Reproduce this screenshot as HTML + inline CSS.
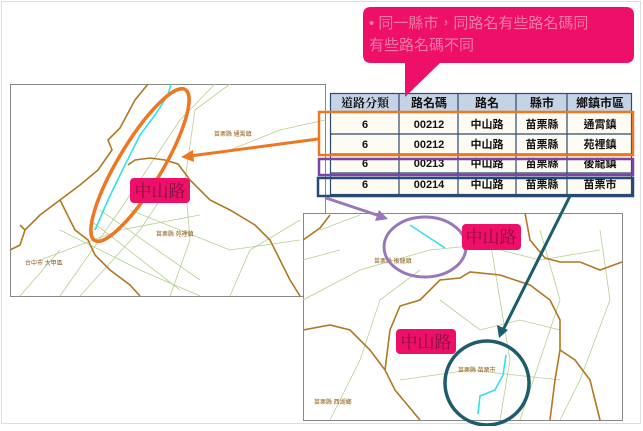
<!DOCTYPE html>
<html><head><meta charset="utf-8"><style>
html,body{margin:0;padding:0;background:#fff;}
body{width:643px;height:426px;overflow:hidden;font-family:"Liberation Sans","Noto Sans CJK TC",sans-serif;}
</style></head><body>
<svg width="643" height="426" xmlns="http://www.w3.org/2000/svg" font-family="Liberation Sans, Noto Sans CJK TC, sans-serif">
<rect x="1.5" y="1.5" width="639" height="422" fill="#fff" stroke="#ddd"/>
<!-- left map -->
<rect x="10.5" y="84.5" width="315" height="212" fill="#fff" stroke="#888"/>
<g fill="none" stroke="#b5d090" stroke-width="0.8">
<path d="M60 296 L120 210 L180 120 L215 84"/><path d="M40 260 L120 230 L200 215"/>
<path d="M80 296 L140 230 L160 200"/><path d="M170 296 L190 240 L185 180 L195 110 L230 84"/>
<path d="M60 230 L140 270 L200 296"/><path d="M90 220 L180 290"/><path d="M100 210 L200 280"/>
<path d="M130 210 L230 250 L300 240"/><path d="M230 150 L280 130 L325 120"/>
<path d="M230 296 L250 250 L300 220"/><path d="M20 296 L60 250"/>
</g>
<g fill="none" stroke="#b07820" stroke-width="1.6">
<path d="M148 84 L135 100 L120 128 L108 140 L112 150 L98 170 L80 185 L60 200 L40 215 L25 230 L20 245 L10 250"/>
<path d="M60 200 L75 230 L88 240 L95 255 L110 270 L130 285 L140 296"/>
<path d="M128 165 L135 160 L150 158 L165 160 L178 164 L190 180 L210 200 L230 210 L255 225 L270 240 L280 260 L290 280 L300 296"/>
<path d="M20 225 L25 230"/>
</g>
<path d="M171 84 L168 95 L155 115 L140 135 L130 155 L120 175 L108 200 L95 230" fill="none" stroke="#33e0ee" stroke-width="1.6"/>
<g font-size="6" fill="#8a5a10"><text x="214" y="136">苗栗縣 通霄鎮</text><text x="156" y="236">苗栗縣 苑裡鎮</text><text x="25" y="265">台中市 大甲區</text></g>
<ellipse cx="140" cy="165" rx="22" ry="88" transform="rotate(31 140 165)" fill="none" stroke="#ee7722" stroke-width="3.5"/>
<rect x="130" y="178" width="60" height="25" rx="4" fill="#ee0f68"/>
<text x="160" y="197" font-size="17" text-anchor="middle" fill="#8a1040" font-family="Liberation Serif, Noto Serif CJK SC, serif">中山路</text>
<!-- right map -->
<rect x="303.5" y="213.5" width="319" height="207" fill="#fff" stroke="#888"/>
<g fill="none" stroke="#b5d090" stroke-width="0.8">
<path d="M303 300 L360 270 L430 250 L480 245 L540 260 L600 250"/><path d="M330 420 L360 360 L380 300 L420 270"/>
<path d="M490 240 L500 300 L510 360 L500 420"/><path d="M540 230 L560 300 L540 360 L520 420"/>
<path d="M440 300 L480 330 L520 320 L560 330"/><path d="M600 230 L610 300 L580 380 L560 420"/>
<path d="M320 230 L360 215"/><path d="M400 380 L470 370 L560 380"/><path d="M303 260 L340 250"/>
</g>
<g fill="none" stroke="#b07820" stroke-width="1.6">
<path d="M303 330 L330 325 L350 330 L370 350 L385 370 L395 390 L420 420"/>
<path d="M385 370 L390 330 L400 306 L420 300 L440 280 L460 278 L470 272 L500 275 L530 285 L550 300 L560 320 L560 350 L555 380 L550 420"/>
<path d="M525 213 L530 240 L545 258 L560 262 L580 262 L600 270 L622 262"/>
<path d="M303 240 L320 228 L330 215"/><path d="M560 350 L575 360 L590 380 L600 420"/>
</g>
<path d="M410 225 L445 248" stroke="#33e0ee" stroke-width="1.6"/>
<path d="M506 355 L503 375 L495 390 L480 396 L478 414" fill="none" stroke="#33e0ee" stroke-width="1.6"/>
<g font-size="6" fill="#8a5a10"><text x="374" y="263">苗栗縣 後龍鎮</text><text x="458" y="372">苗栗縣 苗栗市</text><text x="314" y="404">苗栗縣 西湖鄉</text></g>
<ellipse cx="425" cy="247" rx="41" ry="30" fill="none" stroke="#9977bb" stroke-width="3"/>
<circle cx="487" cy="383" r="42" fill="none" stroke="#1d5d6b" stroke-width="3.5"/>
<rect x="462" y="224" width="59" height="26" rx="4" fill="#ee0f68"/>
<text x="491" y="243" font-size="17" text-anchor="middle" fill="#8a1040" font-family="Liberation Serif, Noto Serif CJK SC, serif">中山路</text>
<rect x="396" y="329" width="60" height="25" rx="4" fill="#ee0f68"/>
<text x="426" y="348" font-size="17" text-anchor="middle" fill="#8a1040" font-family="Liberation Serif, Noto Serif CJK SC, serif">中山路</text>
<!-- table -->
<rect x="330" y="93" width="302" height="102" fill="#fdfbf2"/>
<rect x="330" y="93" width="302" height="19" fill="#c4d3e6"/>
<g stroke="#2d4a70" stroke-width="1.2" fill="none">
<rect x="330.5" y="93.5" width="301" height="101"/>
<line x1="330" y1="112" x2="632" y2="112"/><line x1="330" y1="134" x2="632" y2="134"/>
<line x1="330" y1="154" x2="632" y2="154"/><line x1="330" y1="173" x2="632" y2="173"/>
<line x1="399" y1="93" x2="399" y2="195"/><line x1="458" y1="93" x2="458" y2="195"/>
<line x1="516" y1="93" x2="516" y2="195"/><line x1="567" y1="93" x2="567" y2="195"/>
</g>
<g font-size="12" font-weight="bold" fill="#111" text-anchor="middle">
<text x="365" y="107" font-family="Liberation Serif, Noto Serif CJK TC, serif">道路分類</text><text x="429" y="107">路名碼</text><text x="487" y="107">路名</text><text x="542" y="107">縣市</text><text x="600" y="107">鄉鎮市區</text>
<g font-size="11"><text x="365" y="128">6</text><text x="429" y="128">00212</text><text x="487" y="128">中山路</text><text x="542" y="128">苗栗縣</text><text x="600" y="128">通霄鎮</text>
<text x="365" y="148">6</text><text x="429" y="148">00212</text><text x="487" y="148">中山路</text><text x="542" y="148">苗栗縣</text><text x="600" y="148">苑裡鎮</text>
<text x="365" y="167">6</text><text x="429" y="167">00213</text><text x="487" y="167">中山路</text><text x="542" y="167">苗栗縣</text><text x="600" y="167">後龍鎮</text>
<text x="365" y="188">6</text><text x="429" y="188">00214</text><text x="487" y="188">中山路</text><text x="542" y="188">苗栗縣</text><text x="600" y="188">苗栗市</text></g>
</g>
<rect x="319" y="112" width="314" height="43" fill="none" stroke="#ee7722" stroke-width="2.5"/>
<rect x="319" y="159" width="314" height="16" fill="none" stroke="#7a44a0" stroke-width="2.5"/>
<rect x="318" y="178" width="315" height="18" fill="none" stroke="#244a78" stroke-width="2.5"/>
<!-- arrows -->
<line x1="318" y1="139" x2="190" y2="156" stroke="#ee7722" stroke-width="3"/>
<polygon points="181,157 193,150 194,162" fill="#ee7722"/>
<line x1="326" y1="198" x2="380" y2="216" stroke="#9977bb" stroke-width="3"/>
<polygon points="388,219 375,221 379,210" fill="#9977bb"/>
<line x1="570" y1="196" x2="503" y2="330" stroke="#1d5d6b" stroke-width="3"/>
<polygon points="499,338 497,325 508,330" fill="#1d5d6b"/>
<!-- callout -->
<path d="M371 7 H626 Q634 7 634 15 V55 Q634 63 626 63 H440 L405 97 L405 63 H371 Q363 63 363 55 V15 Q363 7 371 7 Z" fill="#ee0f68"/>
<text x="369" y="28" font-size="15" fill="#f07aa5">• 同一縣市，同路名有些路名碼同</text>
<text x="369" y="50" font-size="15" fill="#f07aa5">有些路名碼不同</text>
</svg>
</body></html>
